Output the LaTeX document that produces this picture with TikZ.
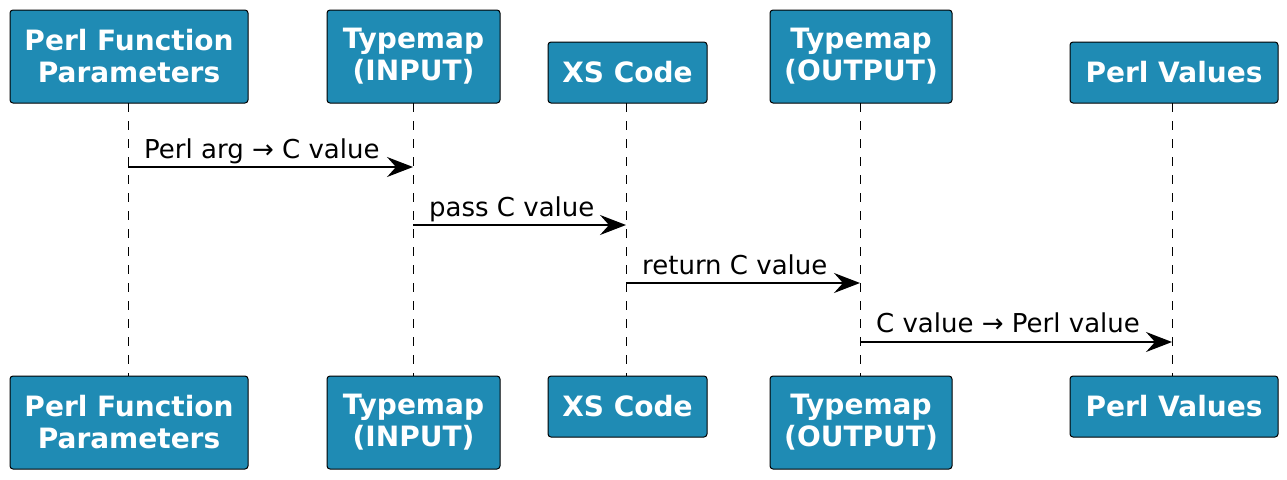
\documentclass[tikz,border=0pt]{standalone}
\usepackage{fontspec}
\setmainfont{DejaVu Sans}
\usetikzlibrary{arrows.meta}
\definecolor{boxfill}{RGB}{31,139,180}
\tikzset{
  part/.style={draw=black, line width=1pt, fill=boxfill, rounded corners=3pt,
    text=white, font=\bfseries\fontsize{28}{32}\selectfont, align=center,
    inner sep=0pt, minimum height=#1},
  part/.default=93pt,
  life/.style={line width=1pt, dash pattern=on 9pt off 9pt},
  msg/.style={line width=1.5pt, -{Stealth[length=26pt,width=20pt,inset=9pt]}},
  lbl/.style={font=\fontsize{26}{30}\selectfont, anchor=base west, inner sep=0pt},
}
\begin{document}
\begin{tikzpicture}[x=1pt,y=-1pt]
\useasboundingbox (0,0) rectangle (1287,479);
% top participants
\node[part=93pt, minimum width=238pt] (p1t) at (129,56.5) {Perl Function\\Parameters};
\node[part=93pt, minimum width=173pt] (p2t) at (413.5,56.5) {Typemap\\(INPUT)};
\node[part=61pt, minimum width=159pt] (p3t) at (627.5,72.5) {XS Code};
\node[part=93pt, minimum width=182pt] (p4t) at (861,56.5) {Typemap\\(OUTPUT)};
\node[part=61pt, minimum width=208pt] (p5t) at (1174,72.5) {Perl Values};
% bottom participants
\node[part=93pt, minimum width=238pt] (p1b) at (129,422.5) {Perl Function\\Parameters};
\node[part=93pt, minimum width=173pt] (p2b) at (413.5,422.5) {Typemap\\(INPUT)};
\node[part=61pt, minimum width=159pt] (p3b) at (627.5,406.5) {XS Code};
\node[part=93pt, minimum width=182pt] (p4b) at (861,422.5) {Typemap\\(OUTPUT)};
\node[part=61pt, minimum width=208pt] (p5b) at (1174,406.5) {Perl Values};
% lifeline coordinates
\coordinate (l1t) at (128,103); \coordinate (l1b) at (128,376);
\coordinate (l2t) at (413,103); \coordinate (l2b) at (413,376);
\coordinate (l3t) at (626,103); \coordinate (l3b) at (626,376);
\coordinate (l4t) at (860,103); \coordinate (l4b) at (860,376);
\coordinate (l5t) at (1172,103); \coordinate (l5b) at (1172,376);
\foreach \i in {1,...,5} { \draw[life] (l\i t) -- (l\i b); }
% messages
\coordinate (m1a) at (128,167); \coordinate (m1b) at (413,167);
\coordinate (m2a) at (413,225); \coordinate (m2b) at (626,225);
\coordinate (m3a) at (626,283); \coordinate (m3b) at (860,283);
\coordinate (m4a) at (860,342); \coordinate (m4b) at (1172,342);
\draw[msg] (m1a) -- (m1b);
\draw[msg] (m2a) -- (m2b);
\draw[msg] (m3a) -- (m3b);
\draw[msg] (m4a) -- (m4b);
\node[lbl] (t1) at (144,158) {Perl arg → C value};
\node[lbl] (t2) at (429,216) {pass C value};
\node[lbl] (t3) at (642,274) {return C value};
\node[lbl] (t4) at (876,332) {C value → Perl value};
\end{tikzpicture}
\end{document}
